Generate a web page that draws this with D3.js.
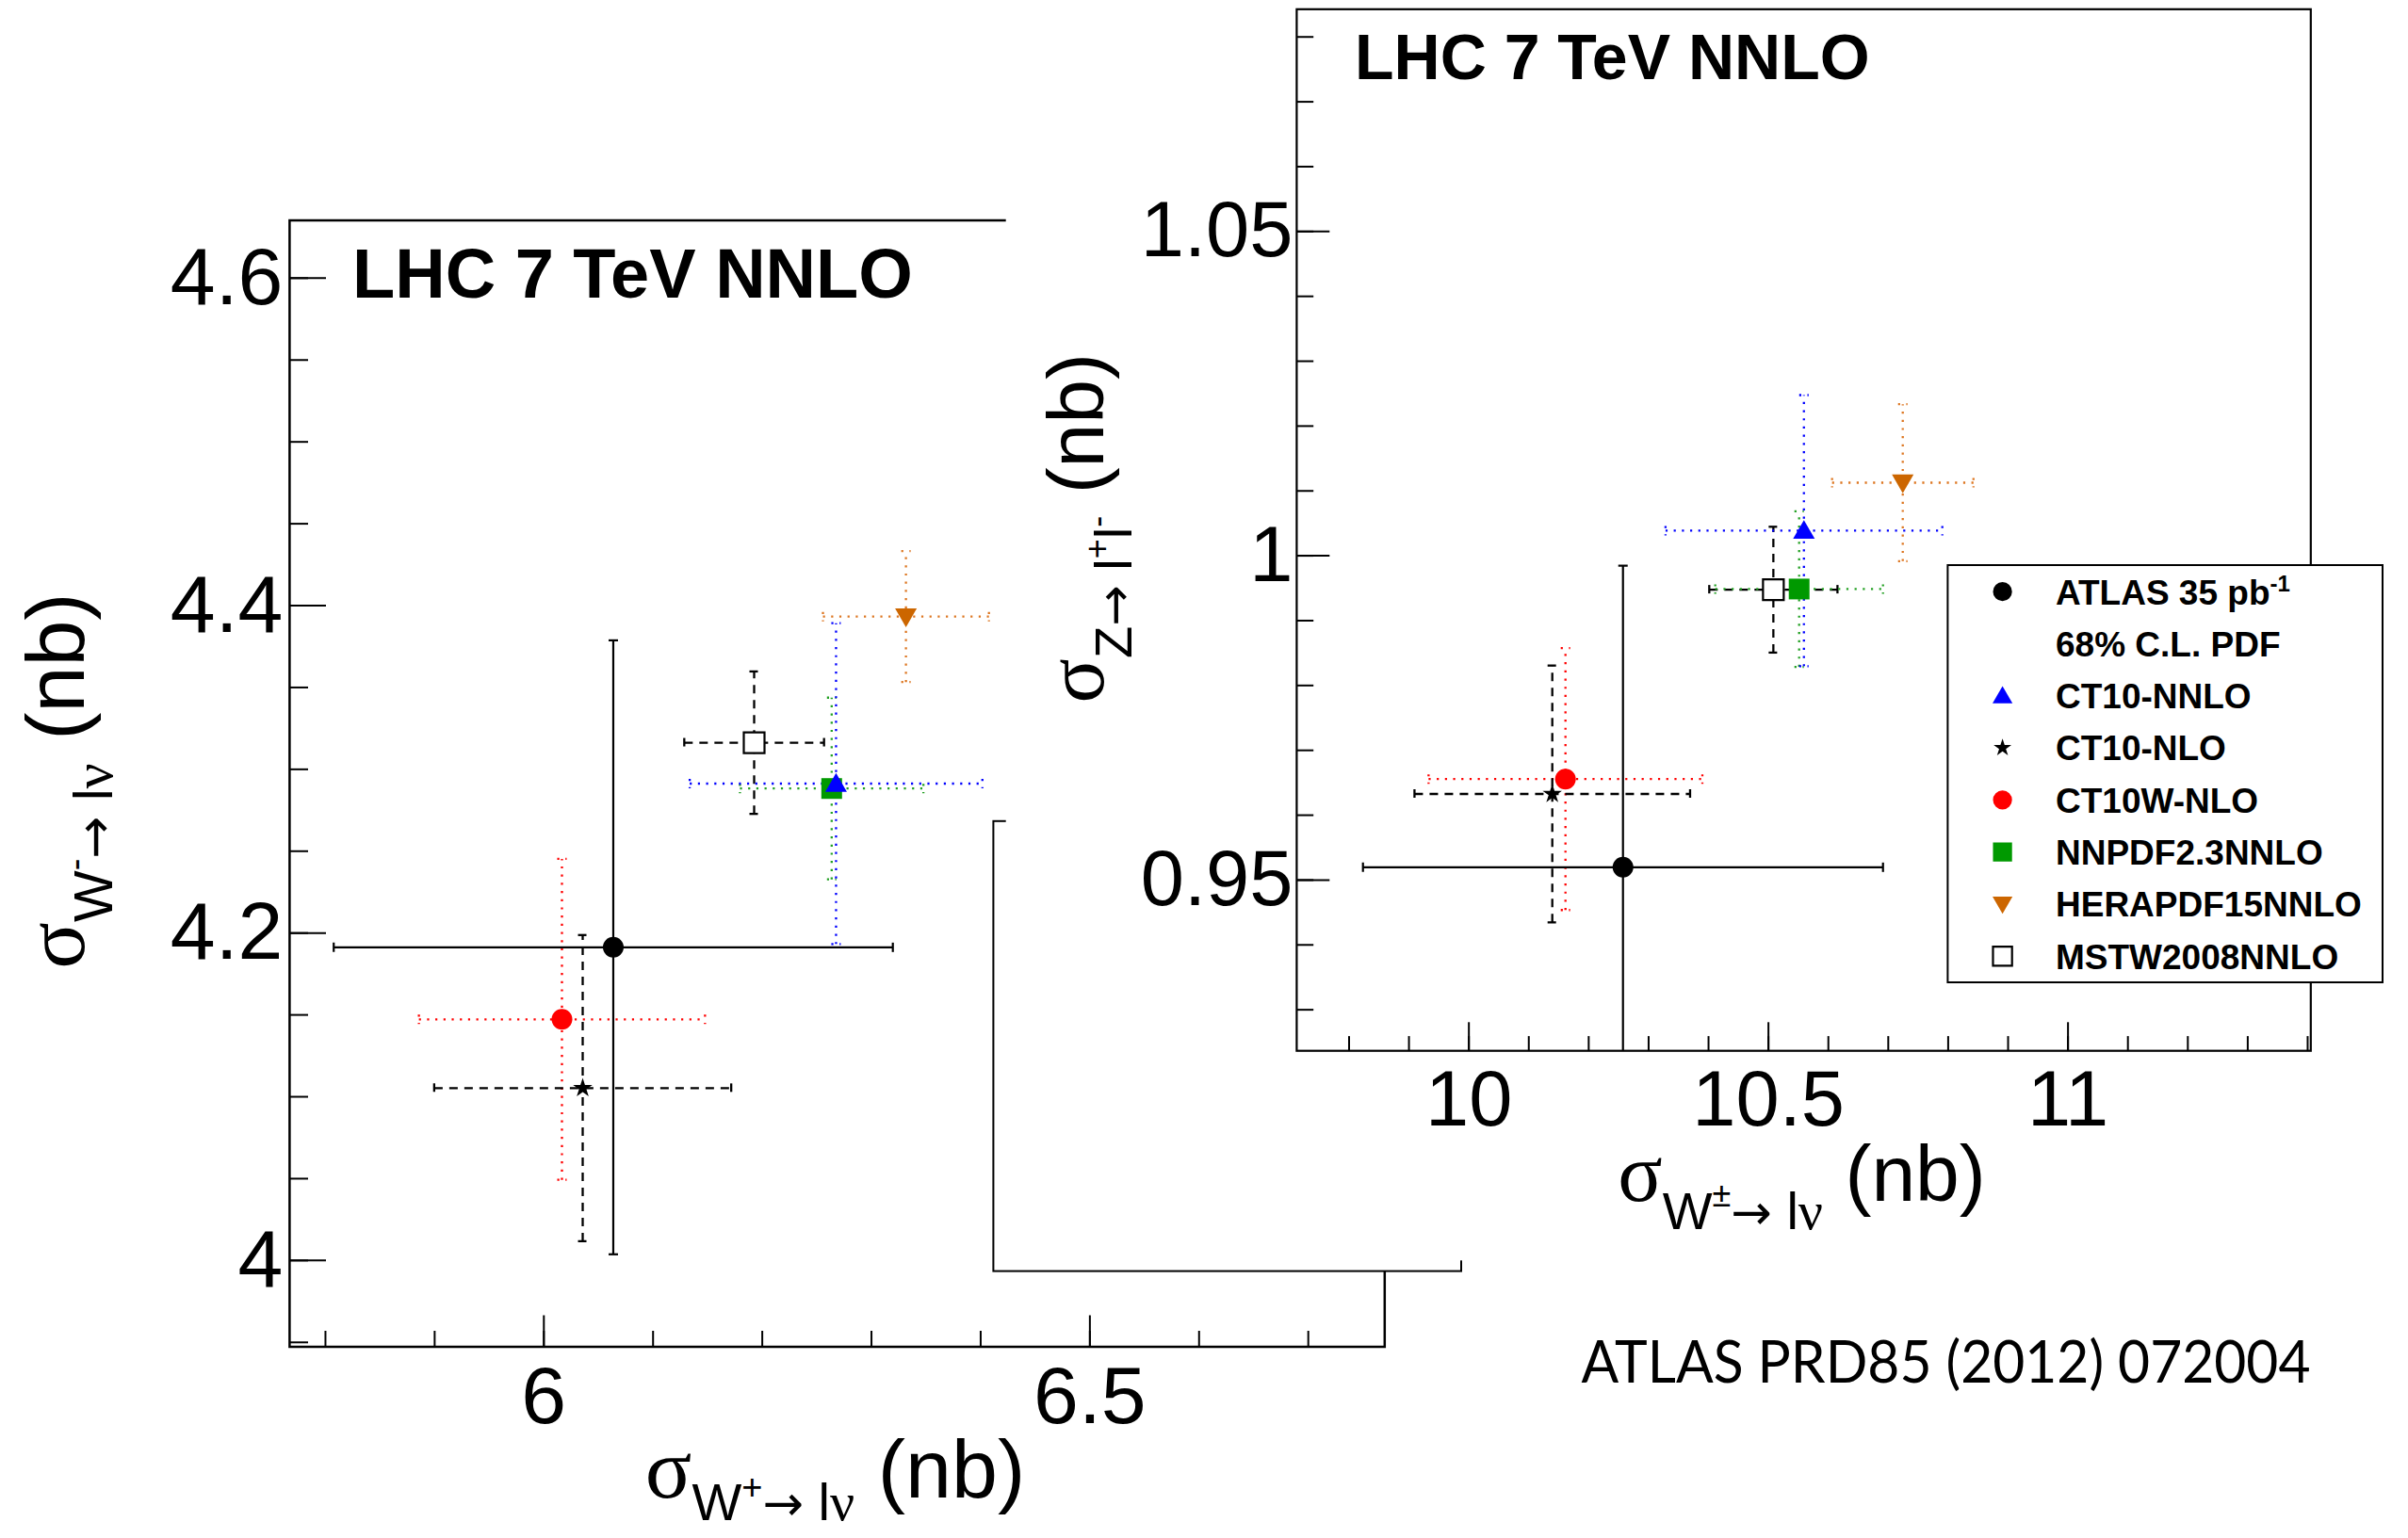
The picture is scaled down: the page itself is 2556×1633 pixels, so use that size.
<!DOCTYPE html>
<html>
<head>
<meta charset="utf-8">
<script src="https://cdn.jsdelivr.net/npm/d3@7"></script>
<style>
  body { margin: 0; background: #fff; }
  svg { display: block; }
</style>
</head>
<body>
<script>
// ---- data ----
var models = ["ATLAS", "CT10-NNLO", "CT10-NLO", "CT10W-NLO", "NNPDF2.3NNLO", "HERAPDF15NNLO", "MSTW2008NNLO"];

// left panel: sigma(W+ -> l nu) vs sigma(W- -> l nu), nb
var wPlus     = [6.064, 6.268, 6.036, 6.017, 6.264, 6.332, 6.193];
var wPlusErr  = [0.256, 0.134, 0.136, 0.131, 0.084, 0.076, 0.064];
var wMinus    = [4.191, 4.291, 4.105, 4.147, 4.288, 4.393, 4.316];
var wMinusErr = [0.1875, 0.098, 0.0935, 0.098, 0.0555, 0.040, 0.0435];

// right panel: sigma(W+- -> l nu) vs sigma(Z -> l+ l-), nb
var wTot    = [10.258, 10.560, 10.140, 10.162, 10.552, 10.725, 10.509];
var wTotErr = [0.434, 0.231, 0.230, 0.2285, 0.140, 0.118, 0.107];
var zTot    = [0.9519, 1.0038, 0.9632, 0.9655, 0.9948, 1.0112, 0.9947];
var zTotErr = [0.0465, 0.0209, 0.0198, 0.0202, 0.0120, 0.0121, 0.0097];

var leftXTicks = [6, 6.5];
var leftYTicks = [4, 4.2, 4.4, 4.6];
var rightXTicks = [10, 10.5, 11];
var rightYTicks = [0.95, 1, 1.05];

var legendLabels = ["ATLAS 35 pb", "68% C.L. PDF", "CT10-NNLO", "CT10-NLO", "CT10W-NLO", "NNPDF2.3NNLO", "HERAPDF15NNLO", "MSTW2008NNLO"];

// ---- styles ----
var style = {
  "ATLAS":         {color: "#000", dash: null,      shape: "circle",  fill: "#000"},
  "CT10-NNLO":     {color: "#0000ff", dash: "2.2 6.5", shape: "triUp",   fill: "#0000ff"},
  "CT10-NLO":      {color: "#000", dash: "9 7",     shape: "star",    fill: "#000"},
  "CT10W-NLO":     {color: "#ff0000", dash: "2.2 6.5", shape: "circle",  fill: "#ff0000"},
  "NNPDF2.3NNLO":  {color: "#22a022", dash: "2.2 6.5", shape: "square",  fill: "#009900"},
  "HERAPDF15NNLO": {color: "#dd7722", dash: "2.2 6.5", shape: "triDown", fill: "#cc6600"},
  "MSTW2008NNLO":  {color: "#000", dash: "9 7",     shape: "open",    fill: "#fff"}
};
// draw order (back to front)
var order = [6, 4, 1, 5, 3, 2, 0];

var sans = "'Liberation Sans', Arial, Helvetica, sans-serif";
var serif = "'Liberation Serif', 'DejaVu Serif', serif";
var arrowFont = "'DejaVu Sans', sans-serif";

var svg = d3.select("body").append("svg")
    .attr("width", 2556)
    .attr("height", 1633);

svg.append("rect").attr("width", 2556).attr("height", 1633).attr("fill", "#fff");

function markerPath(shape, k) {
  k = k || 1;
  if (shape == "circle") return d3.symbol().type(d3.symbolCircle).size(Math.PI * 11 * 11 * k * k)();
  if (shape == "star") return d3.symbol().type(d3.symbolStar).size(130 * k * k)();
  if (shape == "square" || shape == "open") return d3.symbol().type(d3.symbolSquare).size(22 * 22 * k * k)();
  // triangles, side ~23
  return d3.symbol().type(d3.symbolTriangle).size(0.433 * 23 * 23 * k * k)();
}

function drawMarker(g, name, cx, cy, k) {
  var s = style[name];
  var rot = s.shape == "triDown" ? 180 : 0;
  var dy = (s.shape == "triUp" ? 2 : (s.shape == "triDown" ? -2 : 0)) * (k || 1);
  g.append("path")
    .attr("d", markerPath(s.shape, k))
    .attr("transform", "translate(" + cx + "," + (cy + dy) + ") rotate(" + rot + ")")
    .attr("fill", s.fill)
    .attr("stroke", s.shape == "open" ? "#000" : "none")
    .attr("stroke-width", s.shape == "open" ? 2.2 : 0);
}

// TLatex-like title: array of parts {t, size, fam, dy}
function latex(g, x, y, rot, parts) {
  var t = g.append("text")
    .attr("transform", "translate(" + x + "," + y + ") rotate(" + rot + ")")
    .attr("text-anchor", "middle")
    .attr("fill", "#000");
  parts.forEach(function(p) {
    t.append("tspan")
      .attr("dy", p.dy || 0)
      .attr("font-size", p.size)
      .attr("font-family", p.fam || sans)
      .text(p.t);
  });
  return t;
}

function fmt(d) { return String(+d.toFixed(3)); }

function range(a, b, step) {
  var out = [];
  var n = Math.round((b - a) / step);
  for (var i = 0; i <= n; i++) out.push(+(a + i * step).toFixed(4));
  return out;
}

function drawPanel(p) {
  var x = d3.scaleLinear().domain(p.xDomain).range(p.xRange);
  var y = d3.scaleLinear().domain(p.yDomain).range(p.yRange);
  var g = svg.append("g");

  svg.append("clipPath").attr("id", p.id + "-clip")
    .append("rect")
    .attr("x", p.xRange[0]).attr("y", p.yRange[1])
    .attr("width", p.xRange[1] - p.xRange[0])
    .attr("height", p.yRange[0] - p.yRange[1]);

  // minor + major ticks, drawn inward
  var yMinor = d3.axisLeft(y).tickValues(p.yMinor).tickSize(-p.yTick[1]).tickFormat("").tickSizeOuter(0);
  var yMajor = d3.axisLeft(y).tickValues(p.yTicks).tickSize(-p.yTick[0]).tickSizeOuter(0)
      .tickPadding(p.yPad).tickFormat(fmt);
  var xMinor = d3.axisBottom(x).tickValues(p.xMinor).tickSize(-p.xTick[1]).tickFormat("").tickSizeOuter(0);
  var xMajor = d3.axisBottom(x).tickValues(p.xTicks).tickSize(-p.xTick[0]).tickSizeOuter(0)
      .tickPadding(p.xPad).tickFormat(fmt);

  [[yMinor, "y"], [yMajor, "y"], [xMinor, "x"], [xMajor, "x"]].forEach(function(a) {
    var ax = g.append("g")
      .attr("transform", a[1] == "y" ? "translate(" + p.xRange[0] + ",0)" : "translate(0," + p.yRange[0] + ")")
      .call(a[0]);
    ax.select(".domain").remove();
    ax.selectAll("line").attr("stroke", "#000").attr("stroke-width", 2);
    ax.attr("font-size", p.labelSize).attr("font-family", sans);
    ax.selectAll("text").attr("fill", "#000");
  });

  // frame
  g.append("rect")
    .attr("x", p.xRange[0]).attr("y", p.yRange[1])
    .attr("width", p.xRange[1] - p.xRange[0])
    .attr("height", p.yRange[0] - p.yRange[1])
    .attr("fill", "none").attr("stroke", "#000").attr("stroke-width", p.frameW);

  // error bars and markers
  var pg = g.append("g").attr("clip-path", "url(#" + p.id + "-clip)");
  var cap = 5;
  order.forEach(function(i) {
    var name = models[i];
    var s = style[name];
    var cx = x(p.xs[i]), cy = y(p.ys[i]);
    var x0 = x(p.xs[i] - p.xe[i]), x1 = x(p.xs[i] + p.xe[i]);
    var y0 = y(p.ys[i] - p.ye[i]), y1 = y(p.ys[i] + p.ye[i]);
    var segs = [
      [x0, cy, x1, cy], [cx, y0, cx, y1],
      [x0, cy - cap, x0, cy + cap], [x1, cy - cap, x1, cy + cap],
      [cx - cap, y0, cx + cap, y0], [cx - cap, y1, cx + cap, y1]
    ];
    pg.selectAll(null).data(segs).enter().append("line")
      .attr("x1", function(d) { return d[0]; }).attr("y1", function(d) { return d[1]; })
      .attr("x2", function(d) { return d[2]; }).attr("y2", function(d) { return d[3]; })
      .attr("stroke", s.color)
      .attr("stroke-width", s.dash ? 2.3 : 2.2)
      .attr("stroke-dasharray", s.dash);
  });
  order.forEach(function(i) {
    drawMarker(pg, models[i], x(p.xs[i]), y(p.ys[i]), 1);
  });

  // title inside frame
  g.append("text")
    .attr("x", p.title[0]).attr("y", p.title[1])
    .attr("font-family", sans).attr("font-weight", "bold")
    .attr("font-size", p.title[2])
    .text("LHC 7 TeV NNLO");

  return {x: x, y: y, g: g};
}

// ---- left panel ----
var left = drawPanel({
  id: "left",
  xDomain: [5.7676, 6.7704], xRange: [307.4, 1469.8],
  yDomain: [3.947, 4.635], yRange: [1430, 234],
  xs: wPlus, xe: wPlusErr, ys: wMinus, ye: wMinusErr,
  xTicks: leftXTicks, yTicks: leftYTicks,
  xMinor: range(5.8, 6.7, 0.1), yMinor: range(3.95, 4.6, 0.05),
  xTick: [33.5, 17], yTick: [38.6, 19.6],
  xPad: 20, yPad: 7, labelSize: 86, frameW: 2.5,
  title: [374, 315.7, 74]
});

// x title sits low, the subscript nearly touches the page edge as in the picture
latex(svg, 886.5, 1590, 0, [
  {t: "σ", size: 92, fam: serif},
  {t: "W", size: 56, dy: 24},
  {t: "+", size: 38, dy: -22},
  {t: "→", size: 52, dy: 22, fam: arrowFont},
  {t: " l", size: 56},
  {t: "ν", size: 58, fam: serif},
  {t: " (nb)", size: 88, dy: -24}
]);

latex(svg, 89, 829, -90, [
  {t: "σ", size: 92, fam: serif},
  {t: "W", size: 58, dy: 30},
  {t: "-", size: 38, dy: -26},
  {t: "→", size: 54, dy: 26, fam: arrowFont},
  {t: " l", size: 58},
  {t: "ν", size: 60, fam: serif},
  {t: " (nb)", size: 88, dy: -30}
]);

// left plot's own legend box, almost fully hidden under the right plot
svg.append("rect")
  .attr("x", 1054.4).attr("y", 871.8).attr("width", 496.6).attr("height", 477.8)
  .attr("fill", "#fff").attr("stroke", "#000").attr("stroke-width", 2);

// the right plot is pasted on top with an opaque background
svg.append("rect")
  .attr("x", 1067.7).attr("y", 0).attr("width", 1500).attr("height", 1338.3)
  .attr("fill", "#fff");

// ---- right panel ----
var right = drawPanel({
  id: "right",
  xDomain: [9.7134, 11.406], xRange: [1376.4, 2452.8],
  yDomain: [0.9236, 1.0842], yRange: [1115.7, 9.8],
  xs: wTot, xe: wTotErr, ys: zTot, ye: zTotErr,
  xTicks: rightXTicks, yTicks: rightYTicks,
  xMinor: range(9.8, 11.4, 0.1), yMinor: range(0.93, 1.08, 0.01),
  xTick: [30.4, 15.6], yTick: [34.9, 17.8],
  xPad: 20, yPad: 4, labelSize: 83, frameW: 2.2,
  title: [1438, 83.9, 68]
});

latex(svg, 1912.5, 1275, 0, [
  {t: "σ", size: 88, fam: serif},
  {t: "W", size: 56, dy: 30},
  {t: "±", size: 36, dy: -24},
  {t: "→", size: 52, dy: 24, fam: arrowFont},
  {t: " l", size: 56},
  {t: "ν", size: 58, fam: serif},
  {t: " (nb)", size: 84, dy: -30}
]);

latex(svg, 1171, 560.7, -90, [
  {t: "σ", size: 88, fam: serif},
  {t: "Z", size: 56, dy: 30},
  {t: "→", size: 52, fam: arrowFont},
  {t: " l", size: 56},
  {t: "+", size: 36, dy: -24},
  {t: "l", size: 56, dy: 24},
  {t: "-", size: 36, dy: -24},
  {t: " (nb)", size: 84, dy: -6}
]);

// ---- legend ----
var leg = svg.append("g");
leg.append("rect")
  .attr("x", 2067.4).attr("y", 600).attr("width", 461.6).attr("height", 443)
  .attr("fill", "#fff").attr("stroke", "#000").attr("stroke-width", 2);

var rowY = d3.scaleLinear().domain([0, 7]).range([628.2, 1015.2]);
var legendModels = [models[0], null, models[1], models[2], models[3], models[4], models[5], models[6]];
legendLabels.forEach(function(lab, r) {
  var cy = rowY(r);
  if (legendModels[r]) drawMarker(leg, legendModels[r], 2125.6, cy, 0.92);
  var t = leg.append("text")
    .attr("x", 2182).attr("y", cy + 13.3)
    .attr("font-family", sans).attr("font-weight", "bold").attr("font-size", 37)
    .text(lab);
  if (r == 0) {
    t.append("tspan").attr("dy", -14).attr("font-size", 24).text("-1");
  }
});

// ---- reference ----
svg.append("text")
  .attr("x", 1678.5).attr("y", 1468.3)
  .attr("font-family", "Lato, 'Open Sans', sans-serif")
  .attr("font-size", 62)
  .attr("textLength", 774).attr("lengthAdjust", "spacingAndGlyphs")
  .text("ATLAS PRD85 (2012) 072004");
</script>
</body>
</html>
